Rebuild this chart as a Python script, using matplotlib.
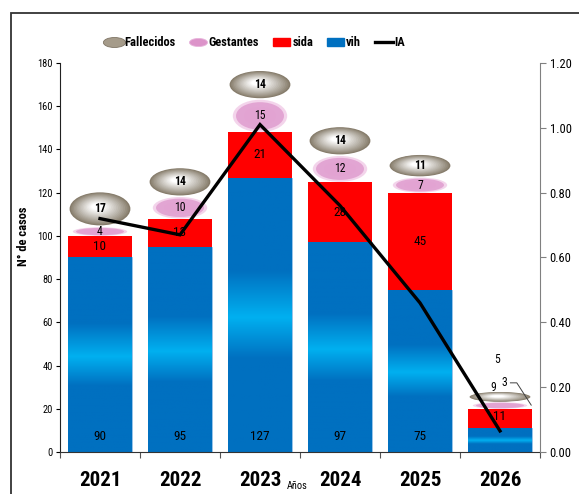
import numpy as np
import matplotlib
matplotlib.use("Agg")
import matplotlib.pyplot as plt
from matplotlib.patches import Ellipse, Rectangle
from matplotlib.lines import Line2D
from matplotlib.path import Path
from matplotlib.colors import LinearSegmentedColormap, to_rgb
from matplotlib import font_manager

# ---------------- data ----------------
years = ["2021", "2022", "2023", "2024", "2025", "2026"]
vih = [90, 95, 127, 97, 75, 11]
sida = [10, 13, 21, 28, 45, 9]
gestantes = [4, 10, 15, 12, 7, 3]
fallecidos = [17, 14, 14, 14, 11, 5]
ia = [0.72, 0.67, 1.01, 0.76, 0.46, 0.065]
left_ticks = [0, 20, 40, 60, 80, 100, 120, 140, 160, 180]
right_ticks = [0.0, 0.2, 0.4, 0.6, 0.8, 1.0, 1.2]

# ---------------- fonts ----------------
names = {f.name for f in font_manager.fontManager.ttflist}
narrow = None
for cand in ["Liberation Sans Narrow", "Arial Narrow", "Roboto Condensed", "Liberation Sans"]:
    if cand in names:
        narrow = cand
        break
if narrow is None:
    narrow = "DejaVu Sans"
plt.rcParams["font.family"] = [narrow, "DejaVu Sans"]

BLUE = "#0070c0"
CYAN = "#00b0f0"
RED = "#ff0000"

fig = plt.figure(figsize=(5.79, 4.94), dpi=100)
ax = fig.add_axes([60 / 579, 42 / 494, 480 / 579, 389 / 494])

x = np.arange(len(years))
bw = 0.79

# blue bars with vertical gradient
vb = ax.bar(x, vih, width=bw, color=BLUE, edgecolor="#9cc6ea", linewidth=0.6, zorder=2)
stops = [(0.0, BLUE), (0.34, BLUE), (0.49, CYAN), (0.66, BLUE), (1.0, BLUE)]
cmap = LinearSegmentedColormap.from_list("g", stops)
grad = np.linspace(0, 1, 256).reshape(-1, 1)
for i, rect in enumerate(vb):
    im = ax.imshow(grad, cmap=cmap, extent=(x[i] - bw / 2, x[i] + bw / 2, 0, vih[i]),
                   origin="lower", aspect="auto", zorder=2.1)
    im.set_clip_path(rect)

# red bars
ax.bar(x, sida, width=bw, bottom=vih, color=RED, zorder=2)

tops = [v + s for v, s in zip(vih, sida)]
gtops = [t + g for t, g in zip(tops, gestantes)]

# gestantes (pink clouds)
for i in range(len(years)):
    cy = tops[i] + gestantes[i] / 2
    h = gestantes[i]
    ax.add_patch(Ellipse((x[i], cy), 0.68, h * 1.0, color="#efc3e3", alpha=0.7, lw=0, zorder=3))
    ax.add_patch(Ellipse((x[i], cy), 0.60, h * 0.85, color="#dc92c9", alpha=0.7, lw=0, zorder=3.1))
    ax.add_patch(Ellipse((x[i], cy), 0.40, h * 0.55, color="#e2a2d2", alpha=0.6, lw=0, zorder=3.2))

# fallecidos (metallic ellipses) - smooth layered gradient
c0 = np.array(to_rgb("#857b6a"))
c1 = np.array(to_rgb("#ffffff"))
nl = 16
for i in range(len(years)):
    cy = gtops[i] + fallecidos[i] / 2
    h = fallecidos[i]
    for k in range(nl):
        t = k / (nl - 1)
        wf = 0.76 - t * 0.60
        hf = 0.90 - t * 0.72
        col = c0 + (c1 - c0) * (t ** 0.9)
        ax.add_patch(Ellipse((x[i] - 0.03 * t, cy + 0.06 * h * t), wf, h * hf,
                             color=col, lw=0, zorder=3.5))

# labels
lab_kw = dict(ha="center", va="center", fontsize=9.5, color="black", zorder=5)
for i in range(5):
    ax.text(x[i], 7, str(vih[i]), **lab_kw)
    ax.text(x[i], vih[i] + sida[i] / 2, str(sida[i]), **lab_kw)
    ax.text(x[i], tops[i] + gestantes[i] / 2, str(gestantes[i]), fontsize=8.5,
            ha="center", va="center", zorder=5)
    ax.text(x[i], gtops[i] + fallecidos[i] / 2, str(fallecidos[i]), fontsize=8.5,
            fontweight="bold", ha="center", va="center", zorder=5)
# 2026 labels (displaced in original)
ax.text(x[5], 16.5, str(vih[5]), **lab_kw)
ax.text(x[5] - 0.09, 30, str(sida[5]), fontsize=8.5, ha="center", va="center", zorder=5)
ax.text(x[5] + 0.06, 32, str(gestantes[5]), fontsize=8.5, ha="center", va="center", zorder=5)
ax.text(x[5] - 0.04, 43, str(fallecidos[5]), fontsize=8.5, ha="center", va="center", zorder=5)
ax.plot([x[5] + 0.13, x[5] + 0.21, x[5] + 0.39], [32, 32, 21.7], color="#404040", lw=0.7, zorder=5)

ax.set_xlim(-0.5, 5.5)
ax.set_ylim(0, 180)
ax.set_yticks(left_ticks)
ax.tick_params(axis="y", labelsize=7.5, length=3, width=0.8, pad=2)
ax.set_xticks(x)
ax.set_xticklabels(years, fontsize=15, fontweight="bold")
ax.tick_params(axis="x", length=0, pad=14)
ax.set_xticks(np.arange(-0.5, 6.0, 1.0), minor=True)
ax.tick_params(axis="x", which="minor", length=4, width=0.8, color="#555555")
for s in ["top", "right"]:
    ax.spines[s].set_visible(False)
ax.spines["left"].set_color("#222222")
ax.spines["bottom"].set_color("#333333")
ax.set_ylabel("N° de casos", fontsize=9, fontweight="bold")
ax.yaxis.set_label_coords(-0.0625, 0.555)
ax.set_xlabel("Años", fontsize=7.5, va="center")
ax.xaxis.set_label_coords(0.494, -0.088)

# IA line on secondary axis
ax2 = ax.twinx()
ax2.plot(x, ia, color="black", lw=2.4, zorder=6, solid_joinstyle="miter")
ax2.set_ylim(0, 1.2)
ax2.set_yticks(right_ticks)
ax2.set_yticklabels([f"{t:.2f}" for t in right_ticks])
ax2.tick_params(axis="y", labelsize=9, length=4, width=0.8, color="#808080", pad=3)
for s in ["top", "left", "bottom"]:
    ax2.spines[s].set_visible(False)
ax2.spines["right"].set_color("#808080")

# legend
ell = Path.unit_circle()
ell = Path(ell.vertices * np.array([1.0, 0.45]), ell.codes)
handles = [
    Line2D([], [], ls="none", marker=ell, markersize=16, markerfacecolor="#a59b8a",
           markeredgecolor="#7f7565", markeredgewidth=0.6),
    Line2D([], [], ls="none", marker=ell, markersize=13, markerfacecolor="#dc93c9",
           markeredgecolor="#e8b5dc", markeredgewidth=0.6),
    Rectangle((0, 0), 1, 1, color=RED),
    Rectangle((0, 0), 1, 1, color=BLUE),
    Line2D([], [], color="black", lw=2.4),
]
leg = fig.legend(handles, ["Fallecidos", "Gestantes", "sida", "vih", "IA"],
                 loc="center", bbox_to_anchor=(255 / 579, 1 - 43 / 494), ncol=5,
                 frameon=False, prop={"size": 9, "weight": "bold"},
                 handlelength=1.4, handleheight=0.6, handletextpad=0.15, columnspacing=1.1)

# outer frame
fig.patches.append(Rectangle((11 / 579, -0.05), 1.0, 1.05 - 13 / 494, transform=fig.transFigure,
                             fill=False, edgecolor="#333333", linewidth=1.3))

fig.savefig("out.png", dpi=100)
